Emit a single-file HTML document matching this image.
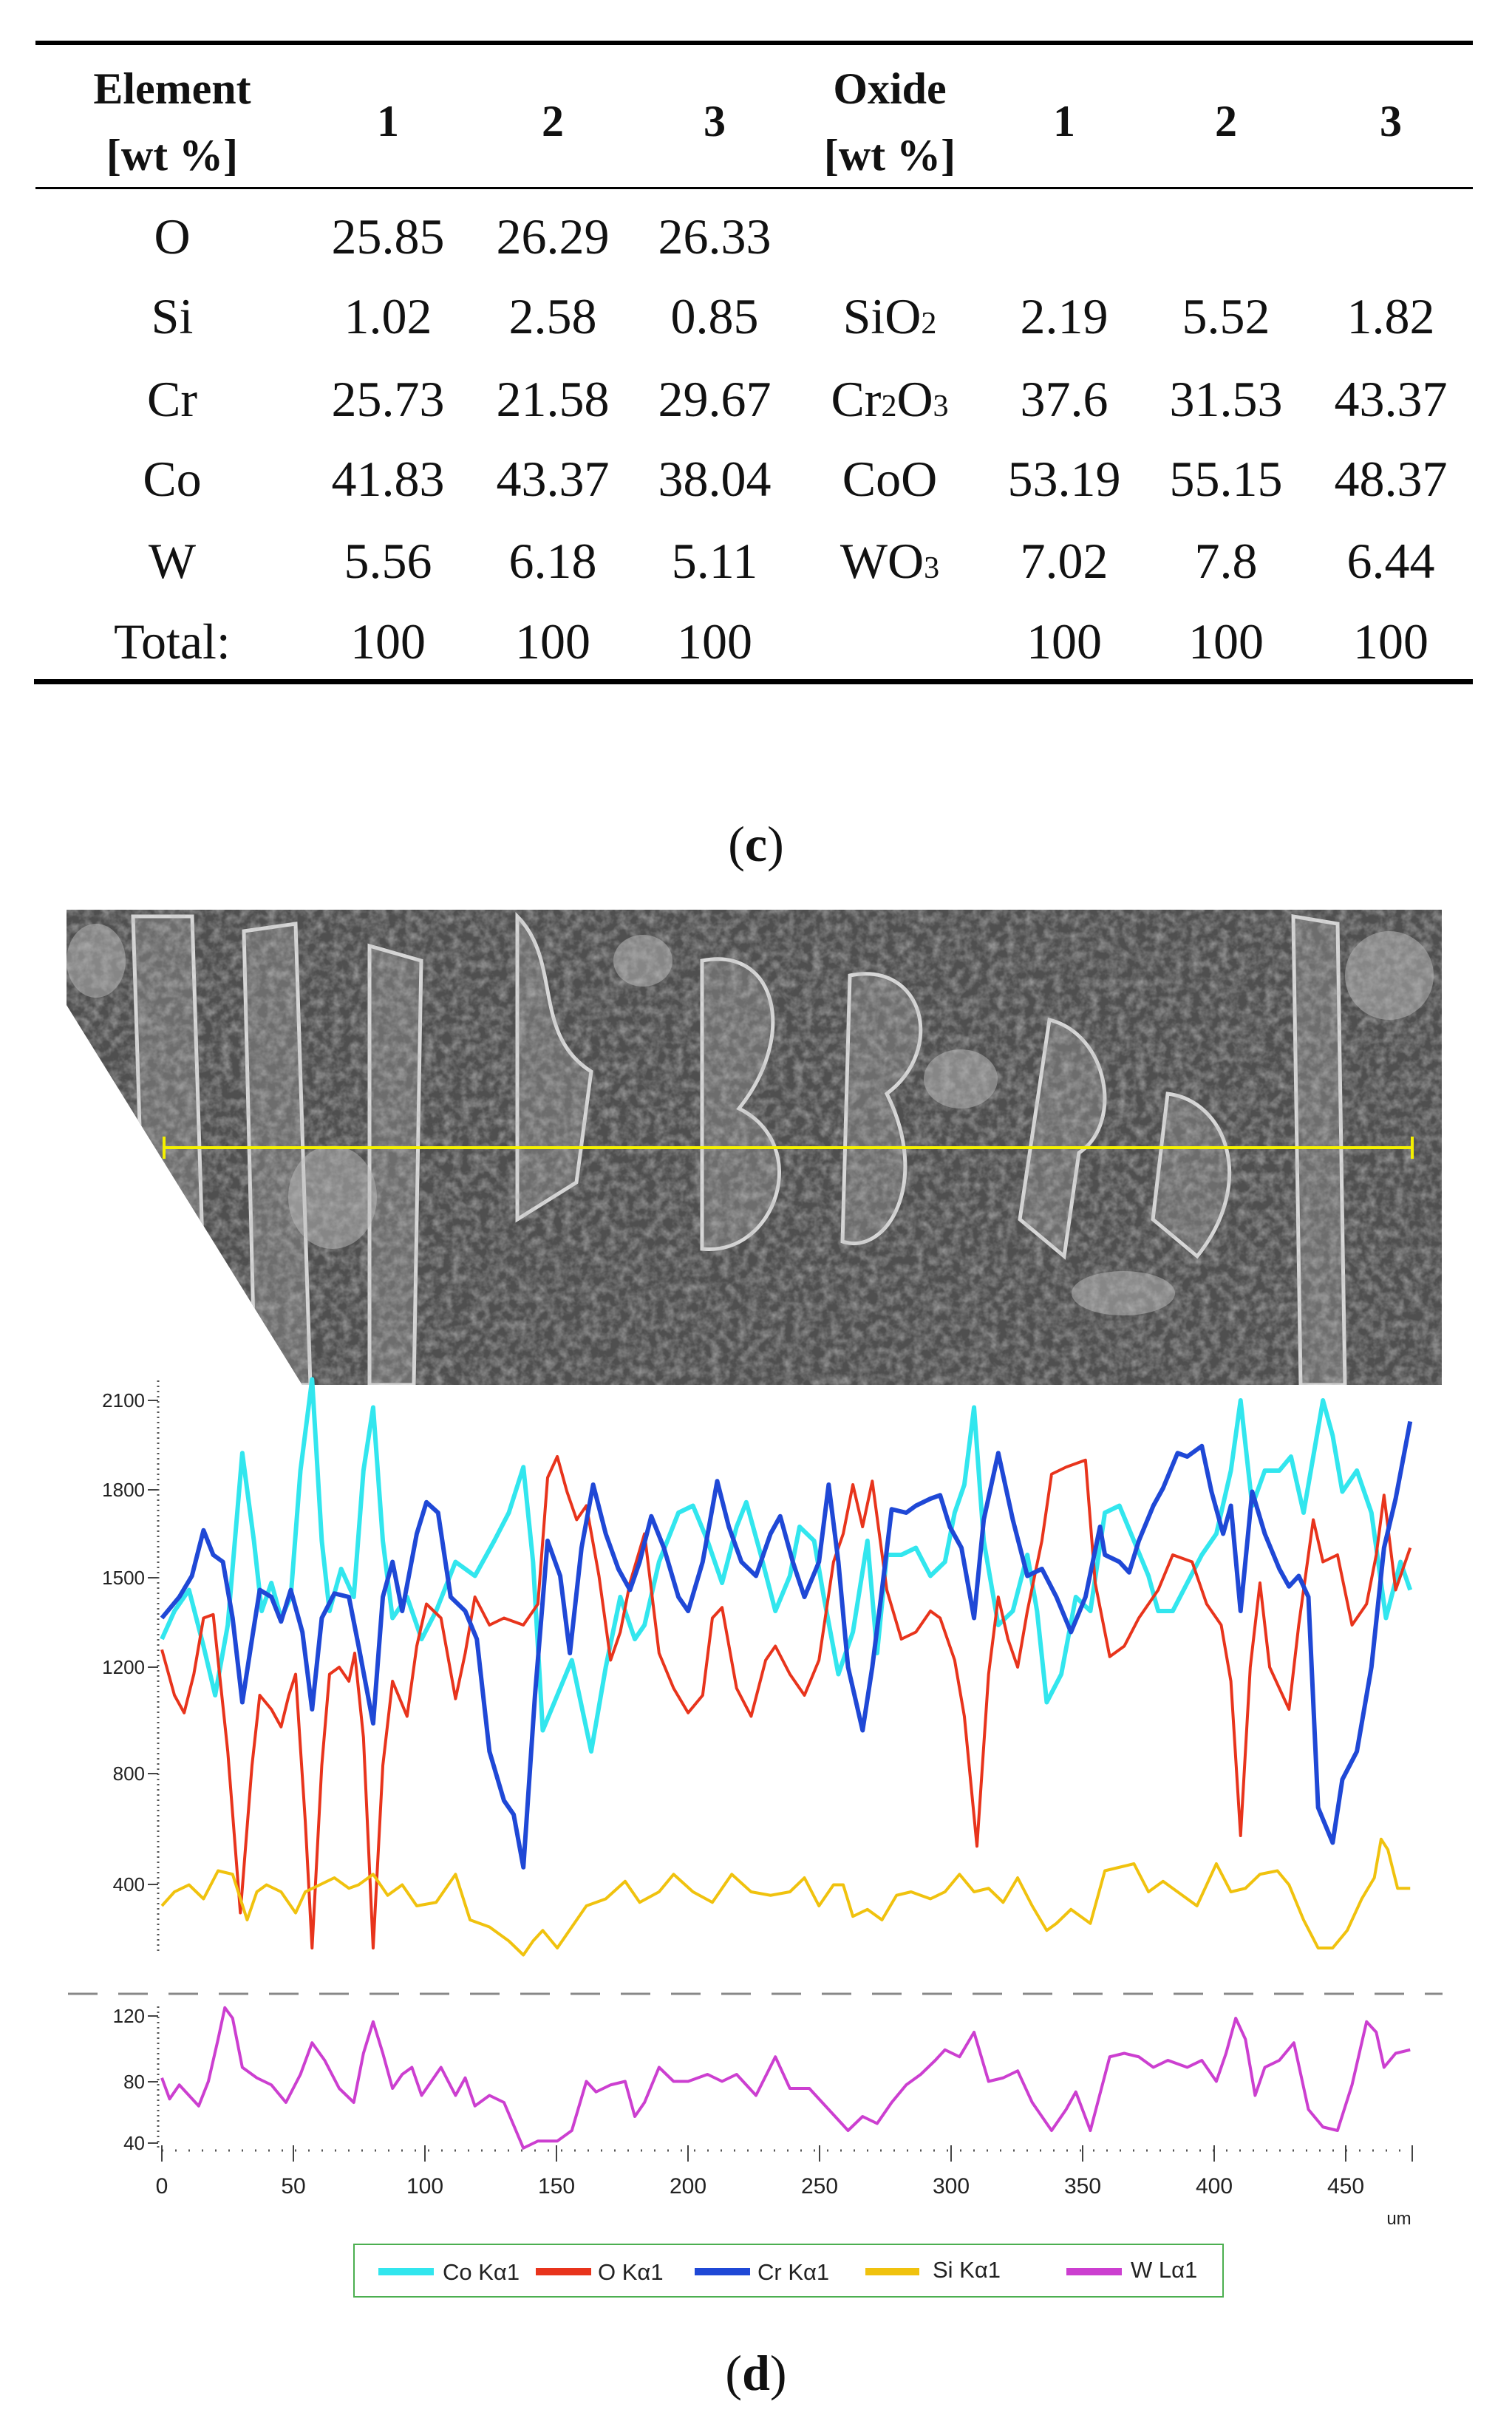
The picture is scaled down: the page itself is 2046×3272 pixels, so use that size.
<!DOCTYPE html>
<html><head><meta charset="utf-8"><style>
html,body{margin:0;padding:0;background:#fff;}
svg{display:block;}
.t{font-family:"Liberation Serif",serif;fill:#111;}
.a{font-family:"Liberation Sans",sans-serif;fill:#222;}
</style></head><body>
<svg width="2046" height="3272" viewBox="0 0 2046 3272" xmlns="http://www.w3.org/2000/svg">
<defs>
<filter id="grain" x="0" y="0" width="100%" height="100%">
<feTurbulence type="fractalNoise" baseFrequency="0.08" numOctaves="3" seed="4"/>
<feColorMatrix type="matrix" values="0 0 0 0 0.5  0 0 0 0 0.5  0 0 0 0 0.5  0 0 0 1.6 -0.55"/>
</filter>
<clipPath id="semclip"><polygon points="90,1231 1951,1231 1951,1874 409,1874 90,1360"/></clipPath>
</defs>
<!-- Table -->
<rect x="48" y="55" width="1945" height="6" fill="#000"/>
<rect x="48" y="253" width="1945" height="3" fill="#000"/>
<rect x="46" y="919" width="1947" height="7" fill="#000"/>
<g class="t" font-size="60" font-weight="bold" text-anchor="middle">
<text x="233" y="140">Element</text>
<text x="233" y="230">[wt %]</text>
<text x="1204" y="140">Oxide</text>
<text x="1204" y="230">[wt %]</text>
<text x="525" y="184">1</text><text x="748" y="184">2</text><text x="967" y="184">3</text>
<text x="1440" y="184">1</text><text x="1659" y="184">2</text><text x="1882" y="184">3</text>
</g>
<g class="t" font-size="68" text-anchor="middle">
<text x="233" y="343">O</text><text x="525" y="343">25.85</text><text x="748" y="343">26.29</text><text x="967" y="343">26.33</text>
<text x="233" y="451">Si</text><text x="525" y="451">1.02</text><text x="748" y="451">2.58</text><text x="967" y="451">0.85</text>
<text x="1204" y="451">SiO<tspan font-size="42">2</tspan></text><text x="1440" y="451">2.19</text><text x="1659" y="451">5.52</text><text x="1882" y="451">1.82</text>
<text x="233" y="563">Cr</text><text x="525" y="563">25.73</text><text x="748" y="563">21.58</text><text x="967" y="563">29.67</text>
<text x="1204" y="563">Cr<tspan font-size="42">2</tspan>O<tspan font-size="42">3</tspan></text><text x="1440" y="563">37.6</text><text x="1659" y="563">31.53</text><text x="1882" y="563">43.37</text>
<text x="233" y="671">Co</text><text x="525" y="671">41.83</text><text x="748" y="671">43.37</text><text x="967" y="671">38.04</text>
<text x="1204" y="671">CoO</text><text x="1440" y="671">53.19</text><text x="1659" y="671">55.15</text><text x="1882" y="671">48.37</text>
<text x="233" y="782">W</text><text x="525" y="782">5.56</text><text x="748" y="782">6.18</text><text x="967" y="782">5.11</text>
<text x="1204" y="782">WO<tspan font-size="42">3</tspan></text><text x="1440" y="782">7.02</text><text x="1659" y="782">7.8</text><text x="1882" y="782">6.44</text>
<text x="233" y="891">Total:</text><text x="525" y="891">100</text><text x="748" y="891">100</text><text x="967" y="891">100</text>
<text x="1440" y="891">100</text><text x="1659" y="891">100</text><text x="1882" y="891">100</text>
</g>
<text class="t" x="1023" y="1165" font-size="68" text-anchor="middle">(<tspan font-weight="bold">c</tspan>)</text>

<!-- SEM image -->
<g clip-path="url(#semclip)">
<rect x="90" y="1231" width="1861" height="643" fill="#4f4f4f"/>
<g fill="#6d6d6d" stroke="#d8d8d8" stroke-width="5">
<path d="M180,1240 L260,1240 L280,1874 L200,1874 Z"/>
<path d="M330,1260 L400,1250 L420,1874 L345,1874 Z"/>
<path d="M500,1280 L570,1300 L560,1874 L500,1874 Z"/>
<path d="M700,1240 C760,1300 720,1400 800,1450 L780,1600 L700,1650 Z"/>
<path d="M950,1300 C1050,1280 1080,1400 1000,1500 C1100,1550 1050,1700 950,1690 Z"/>
<path d="M1150,1320 C1250,1300 1280,1420 1200,1480 C1260,1600 1200,1700 1140,1680 Z"/>
<path d="M1420,1380 C1500,1400 1520,1520 1460,1560 L1440,1700 L1380,1650 Z"/>
<path d="M1580,1480 C1660,1490 1700,1600 1620,1700 L1560,1650 Z"/>
<path d="M1750,1240 L1810,1250 L1820,1874 L1760,1874 Z"/>
</g>
<g fill="#bdbdbd" opacity="0.5">
<ellipse cx="130" cy="1300" rx="40" ry="50"/>
<ellipse cx="450" cy="1620" rx="60" ry="70"/>
<ellipse cx="870" cy="1300" rx="40" ry="35"/>
<ellipse cx="1300" cy="1460" rx="50" ry="40"/>
<ellipse cx="1880" cy="1320" rx="60" ry="60"/>
<ellipse cx="1520" cy="1750" rx="70" ry="30"/>
</g>
<rect x="90" y="1231" width="1861" height="643" filter="url(#grain)" opacity="0.7"/>
</g>
<line x1="222" y1="1553" x2="1911" y2="1553" stroke="#f4f000" stroke-width="4"/>
<line x1="222" y1="1538" x2="222" y2="1568" stroke="#f4f000" stroke-width="4"/>
<line x1="1911" y1="1538" x2="1911" y2="1568" stroke="#f4f000" stroke-width="4"/>

<!-- Axes -->
<line x1="214" y1="1868" x2="214" y2="2642" stroke="#555" stroke-width="3" stroke-dasharray="2,5"/>
<line x1="214" y1="2715" x2="214" y2="2910" stroke="#555" stroke-width="3" stroke-dasharray="2,5"/>
<g stroke="#444" stroke-width="2">
<line x1="200" y1="1895" x2="214" y2="1895"/><line x1="200" y1="2016" x2="214" y2="2016"/>
<line x1="200" y1="2135" x2="214" y2="2135"/><line x1="200" y1="2256" x2="214" y2="2256"/>
<line x1="200" y1="2400" x2="214" y2="2400"/><line x1="200" y1="2550" x2="214" y2="2550"/>
<line x1="200" y1="2728" x2="214" y2="2728"/><line x1="200" y1="2817" x2="214" y2="2817"/>
<line x1="200" y1="2900" x2="214" y2="2900"/>
</g>
<g class="a" font-size="26" text-anchor="end">
<text x="196" y="1904">2100</text><text x="196" y="2025">1800</text><text x="196" y="2144">1500</text>
<text x="196" y="2265">1200</text><text x="196" y="2409">800</text><text x="196" y="2559">400</text>
<text x="196" y="2737">120</text><text x="196" y="2826">80</text><text x="196" y="2909">40</text>
</g>
<line x1="219" y1="2910" x2="1912" y2="2910" stroke="#555" stroke-width="3" stroke-dasharray="2,16"/>
<g stroke="#444" stroke-width="2">
<line x1="219" y1="2903" x2="219" y2="2925"/><line x1="397" y1="2903" x2="397" y2="2925"/>
<line x1="575" y1="2903" x2="575" y2="2925"/><line x1="753" y1="2903" x2="753" y2="2925"/>
<line x1="931" y1="2903" x2="931" y2="2925"/><line x1="1109" y1="2903" x2="1109" y2="2925"/>
<line x1="1287" y1="2903" x2="1287" y2="2925"/><line x1="1465" y1="2903" x2="1465" y2="2925"/>
<line x1="1643" y1="2903" x2="1643" y2="2925"/><line x1="1821" y1="2903" x2="1821" y2="2925"/>
<line x1="1911" y1="2903" x2="1911" y2="2925"/>
</g>
<g class="a" font-size="30" text-anchor="middle">
<text x="219" y="2968">0</text><text x="397" y="2968">50</text><text x="575" y="2968">100</text>
<text x="753" y="2968">150</text><text x="931" y="2968">200</text><text x="1109" y="2968">250</text>
<text x="1287" y="2968">300</text><text x="1465" y="2968">350</text><text x="1643" y="2968">400</text>
<text x="1821" y="2968">450</text>
</g>
<text class="a" x="1893" y="3010" font-size="24" text-anchor="middle">um</text>
<line x1="92" y1="2698" x2="1952" y2="2698" stroke="#888" stroke-width="3" stroke-dasharray="40,28"/>

<!-- Series -->
<g transform="translate(0,1800) scale(1.3115,0.95)" fill="none" stroke-linejoin="round">
<polyline vector-effect="non-scaling-stroke" stroke="#32e6ee" stroke-width="6" points="167,440 180,400 195,370 210,450 222,520 235,420 250,175 262,300 270,400 280,360 290,410 300,380 310,200 322,70 332,300 340,400 352,340 365,380 375,200 385,110 395,300 405,410 420,380 435,440 450,400 470,330 490,350 510,300 525,260 540,195 550,330 560,570 575,520 590,470 610,600 625,480 640,380 655,440 665,420 680,330 700,260 715,250 730,300 745,360 760,280 770,245 785,320 800,400 815,350 825,280 840,300 850,380 865,490 880,430 895,300 905,460 915,320 930,320 945,310 960,350 975,330 985,260 995,220 1005,110 1015,300 1030,420 1045,400 1060,320 1070,400 1080,530 1095,490 1110,380 1125,400 1140,260 1155,250 1170,300 1185,350 1195,400 1210,400 1225,360 1240,320 1255,290 1270,200 1280,100 1292,250 1305,200 1320,200 1332,180 1345,260 1365,100 1375,150 1385,230 1400,200 1415,260 1430,410 1445,330 1455,370"/>
<polyline vector-effect="non-scaling-stroke" stroke="#e8341c" stroke-width="4" points="167,455 180,520 190,545 200,490 210,410 220,405 235,600 248,830 260,620 268,520 280,540 290,565 298,520 305,490 315,700 322,880 332,620 340,490 350,480 360,500 366,460 375,580 385,880 395,620 405,500 420,550 430,450 440,390 455,410 470,525 480,460 490,380 505,420 520,410 540,420 555,390 565,210 575,180 585,230 595,270 605,250 618,350 630,470 640,430 650,360 665,290 680,460 695,510 710,545 725,520 735,410 745,395 760,510 775,550 790,470 800,450 815,490 830,520 845,470 860,330 870,290 880,220 890,280 900,215 915,370 930,440 945,430 960,400 970,410 985,470 995,550 1008,735 1020,490 1030,380 1040,440 1050,480 1060,400 1075,300 1085,205 1100,195 1120,185 1130,360 1145,465 1160,450 1175,410 1195,370 1210,320 1230,330 1245,390 1260,420 1270,500 1280,720 1290,480 1300,360 1310,480 1330,540 1340,420 1355,270 1365,330 1380,320 1395,420 1410,390 1420,320 1428,235 1440,370 1455,310"/>
<polyline vector-effect="non-scaling-stroke" stroke="#1f48d6" stroke-width="6" points="167,410 185,380 198,350 210,285 220,320 230,330 240,410 250,530 260,440 268,370 280,380 290,415 300,370 312,430 322,540 332,410 345,375 360,380 370,450 385,560 395,380 405,330 415,400 430,290 440,245 452,260 465,380 480,400 492,440 505,600 520,670 530,690 540,765 552,520 565,300 578,350 588,460 600,310 612,220 625,290 638,340 650,370 660,330 672,265 685,310 700,380 710,400 725,330 740,215 752,280 765,330 780,350 795,290 805,265 818,330 830,380 845,330 855,220 865,330 875,480 890,570 900,480 910,370 920,255 935,260 945,250 960,240 970,235 980,280 992,310 1005,410 1015,270 1030,175 1045,270 1060,350 1075,340 1090,380 1105,430 1120,380 1135,280 1140,320 1155,330 1165,345 1175,300 1190,250 1200,225 1215,175 1225,180 1240,165 1250,230 1262,290 1270,250 1280,400 1292,230 1305,290 1320,340 1330,365 1340,350 1350,380 1360,680 1375,730 1385,640 1400,600 1415,480 1428,310 1440,240 1455,130"/>
<polyline vector-effect="non-scaling-stroke" stroke="#f0c20e" stroke-width="4" points="167,820 180,800 195,790 210,810 225,770 240,775 255,840 265,800 275,790 290,800 305,830 315,800 330,790 345,780 360,795 370,790 385,775 400,805 415,790 430,820 450,815 470,775 485,840 505,850 525,870 540,890 550,870 560,855 575,880 590,850 605,820 625,810 645,785 660,815 680,800 695,775 715,800 735,815 755,775 775,800 795,805 815,800 830,780 845,820 860,790 870,790 880,835 895,825 910,840 925,805 940,800 960,810 975,800 990,775 1005,800 1020,795 1035,815 1050,780 1065,820 1080,855 1090,845 1105,825 1125,845 1140,770 1155,765 1170,760 1185,800 1200,785 1215,800 1235,820 1255,760 1270,800 1285,795 1300,775 1318,770 1330,790 1345,840 1360,880 1375,880 1390,855 1405,810 1418,780 1425,725 1432,740 1442,795 1455,795"/>
<polyline vector-effect="non-scaling-stroke" stroke="#cc3fd0" stroke-width="4" points="167,1065 175,1095 185,1075 195,1090 205,1105 215,1070 225,1010 232,965 240,980 250,1050 265,1065 280,1075 295,1100 310,1060 322,1015 335,1040 350,1080 365,1100 375,1030 385,985 395,1030 405,1080 415,1060 425,1050 435,1090 445,1070 455,1050 470,1090 480,1065 490,1105 505,1090 520,1100 540,1165 555,1155 575,1155 590,1140 605,1070 615,1085 630,1075 645,1070 655,1120 665,1100 680,1050 695,1070 710,1070 730,1060 745,1070 760,1060 780,1090 800,1035 815,1080 835,1080 855,1110 875,1140 890,1120 905,1130 920,1100 935,1075 950,1060 965,1040 975,1025 990,1035 1005,1000 1020,1070 1035,1065 1050,1055 1065,1100 1085,1140 1100,1110 1110,1085 1125,1140 1145,1035 1160,1030 1175,1035 1190,1050 1205,1040 1225,1050 1240,1040 1255,1070 1265,1030 1275,980 1285,1010 1295,1090 1305,1050 1320,1040 1335,1015 1350,1110 1365,1135 1380,1140 1395,1075 1410,985 1420,1000 1428,1050 1440,1030 1455,1025"/>
</g>

<!-- Legend -->
<rect x="479" y="3037" width="1176" height="71" fill="#fff" stroke="#4caf50" stroke-width="2"/>
<rect x="512" y="3069" width="75" height="10" fill="#32e6ee"/>
<rect x="725" y="3069" width="75" height="10" fill="#e8341c"/>
<rect x="940" y="3069" width="75" height="10" fill="#1f48d6"/>
<rect x="1171" y="3069" width="73" height="10" fill="#f0c20e"/>
<rect x="1443" y="3069" width="75" height="10" fill="#cc3fd0"/>
<g class="a" font-size="31">
<text x="599" y="3085">Co Kα1</text>
<text x="809" y="3085">O Kα1</text>
<text x="1025" y="3085">Cr Kα1</text>
<text x="1262" y="3082">Si Kα1</text>
<text x="1530" y="3082">W Lα1</text>
</g>
<text class="t" x="1023" y="3234" font-size="68" text-anchor="middle">(<tspan font-weight="bold">d</tspan>)</text>
</svg>
</body></html>
